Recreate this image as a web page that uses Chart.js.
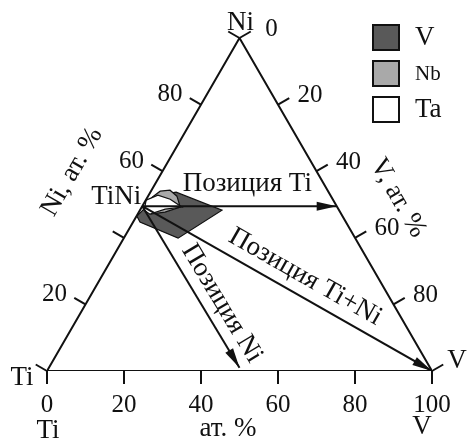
<!DOCTYPE html>
<html>
<head>
<meta charset="utf-8">
<script src="https://cdn.jsdelivr.net/npm/chart.js@4.4.1/dist/chart.umd.min.js"></script>
<style>
  html, body { margin: 0; padding: 0; background: #fff; }
  #wrap { width: 470px; height: 444px; }
</style>
</head>
<body>
<div id="wrap"><canvas id="ternary" width="470" height="444"></canvas></div>
<script>
// Ti–Ni–V section, compositions in at.% (Ti = 100 - V - Ni)
const tickValues = [0, 20, 40, 60, 80, 100];
const bottomLabels = ['0', '20', '40', '60', '80', '100'];
const leftLabels = ['', '20', '', '60', '80', ''];
const rightLabels = ['0', '20', '40', '60', '80', ''];

const vAlloyV  = [2.4, 6.7, 21.3, 14.1, 1.8, 0.1];
const vAlloyNi = [52.8, 53.7, 48.3, 39.9, 44.7, 46.5];
const nbAlloyV  = [1.2, 2.4, 4.8, 7.5, 10.0, 6.8, 3.2, 1.3];
const nbAlloyNi = [52.2, 54.0, 54.3, 52.5, 49.2, 47.7, 47.1, 48.9];
const taAlloyV  = [0.1, 2.4, 6.2, 10.5, 6.4, 3.2, 1.1];
const taAlloyNi = [51.3, 52.8, 51.6, 49.2, 48.6, 47.1, 48.3];

const tiniV = 0;
const tiniNi = 49.5;
const arrowEndV  = [50.5, 49.5, 100];
const arrowEndNi = [49.5, 1, 0];
const arrowLabels = ['Позиция Ti', 'Позиция Ni', 'Позиция Ti+Ni'];

const legendNames = ['V', 'Nb', 'Ta'];
const legendColors = ['#595959', '#a9a9a9', '#ffffff'];

const SQ3 = Math.sqrt(3) / 2;
const FONT = '"Liberation Serif", "DejaVu Serif", serif';
const NUM = 25;   // tick numbers
const WORD = 27;  // captions

function tern(v, ni) {
  return { x: v + ni / 2, y: ni * SQ3 };
}

function polygon(vs, nis) {
  const pts = vs.map((v, i) => tern(v, nis[i]));
  pts.push(pts[0]);
  return pts;
}

const datasets = [
  {
    data: polygon(vAlloyV, vAlloyNi),
    showLine: true, fill: 'shape',
    backgroundColor: legendColors[0], borderColor: '#111', borderWidth: 1.2,
    pointRadius: 0, order: 6
  },
  {
    data: polygon(nbAlloyV, nbAlloyNi),
    showLine: true, fill: 'shape',
    backgroundColor: legendColors[1], borderColor: '#111', borderWidth: 1.2,
    pointRadius: 0, order: 5
  },
  {
    data: polygon(taAlloyV, taAlloyNi),
    showLine: true, fill: 'shape',
    backgroundColor: legendColors[2], borderColor: '#111', borderWidth: 1.2,
    pointRadius: 0, order: 4
  },
  {
    data: [tern(0, 0), tern(100, 0), tern(0, 100), tern(0, 0)],
    showLine: true, fill: false,
    borderColor: '#111', borderWidth: 2, pointRadius: 0, order: 3
  }
];

arrowEndV.forEach((v, i) => {
  datasets.push({
    data: [tern(tiniV, tiniNi), tern(v, arrowEndNi[i])],
    showLine: true, fill: false,
    borderColor: '#111', borderWidth: 2, pointRadius: 0, order: 2
  });
});

const ternaryDecor = {
  id: 'ternaryDecor',
  afterDatasetsDraw(chart) {
    const ctx = chart.ctx;
    const sx = chart.scales.x, sy = chart.scales.y;
    const px = p => ({ x: sx.getPixelForValue(p.x), y: sy.getPixelForValue(p.y) });
    const text = (s, x, y, size, rot) => {
      ctx.save();
      ctx.translate(x, y);
      if (rot) ctx.rotate(rot);
      ctx.font = size + 'px ' + FONT;
      ctx.fillText(s, 0, 0);
      ctx.restore();
    };

    ctx.save();
    ctx.strokeStyle = '#111';
    ctx.fillStyle = '#111';
    ctx.lineWidth = 2;
    ctx.textAlign = 'center';
    ctx.textBaseline = 'middle';

    // arrowheads
    arrowEndV.forEach((v, i) => {
      const a = px(tern(tiniV, tiniNi));
      const b = px(tern(v, arrowEndNi[i]));
      const ang = Math.atan2(b.y - a.y, b.x - a.x);
      ctx.save();
      ctx.translate(b.x, b.y);
      ctx.rotate(ang);
      ctx.beginPath();
      ctx.moveTo(0, 0);
      ctx.lineTo(-20, -4.5);
      ctx.lineTo(-20, 4.5);
      ctx.closePath();
      ctx.fill();
      ctx.restore();
    });

    // ticks
    const tick = 13;
    tickValues.forEach((t, i) => {
      let p = px(tern(t, 0));
      ctx.beginPath(); ctx.moveTo(p.x, p.y); ctx.lineTo(p.x, p.y + tick); ctx.stroke();
      text(bottomLabels[i], p.x, p.y + 34, NUM);

      p = px(tern(0, t));
      ctx.beginPath(); ctx.moveTo(p.x, p.y);
      ctx.lineTo(p.x - tick * SQ3, p.y - tick / 2); ctx.stroke();
      if (leftLabels[i]) text(leftLabels[i], p.x - 31, p.y - 10, NUM);

      p = px(tern(t, 100 - t));
      ctx.beginPath(); ctx.moveTo(p.x, p.y);
      ctx.lineTo(p.x + tick * SQ3, p.y - tick / 2); ctx.stroke();
      if (rightLabels[i]) text(rightLabels[i], p.x + 32, p.y - 9, NUM);
    });

    // arrow captions
    const labelAt = [0.54, 0.66, 0.53];
    const labelLift = [22, 18, 19];
    arrowEndV.forEach((v, i) => {
      const a = px(tern(tiniV, tiniNi));
      const b = px(tern(v, arrowEndNi[i]));
      const ang = Math.atan2(b.y - a.y, b.x - a.x);
      const x = a.x + (b.x - a.x) * labelAt[i] + Math.sin(ang) * labelLift[i];
      const y = a.y + (b.y - a.y) * labelAt[i] - Math.cos(ang) * labelLift[i];
      text(arrowLabels[i], x, y, WORD, ang);
    });

    // corner and axis names
    const ti = px(tern(0, 0)), vv = px(tern(100, 0)), ni = px(tern(0, 100));
    const tn = px(tern(tiniV, tiniNi));
    text('Ti', ti.x - 25, ti.y + 7, WORD);
    text('V', vv.x + 25, vv.y - 10, WORD);
    text('Ni', ni.x + 1, ni.y - 15, WORD);
    text('TiNi', tn.x - 26, tn.y - 9, WORD);
    text('Ti', ti.x + 1, ti.y + 60, WORD);
    text('ат. %', 228, ti.y + 58, WORD);
    text('V', vv.x - 10, vv.y + 56, WORD);
    text('Ni, ат. %', 72, 172, WORD, -Math.PI / 3);
    text('V, ат. %', 398, 198, WORD, Math.PI / 3);

    // legend
    legendNames.forEach((name, i) => {
      const y = 25 + i * 36;
      ctx.fillStyle = legendColors[i];
      ctx.fillRect(373, y, 26, 25);
      ctx.strokeRect(373, y, 26, 25);
      ctx.fillStyle = '#111';
      ctx.textAlign = 'left';
      text(name, 415, y + 13, name === 'Nb' ? 21 : WORD);
      ctx.textAlign = 'center';
    });
    ctx.restore();
  }
};

new Chart(document.getElementById('ternary'), {
  type: 'scatter',
  data: { datasets },
  options: {
    responsive: false,
    animation: false,
    layout: { padding: { left: 47, right: 38, top: 38, bottom: 73 } },
    scales: {
      x: { type: 'linear', min: 0, max: 100, display: false },
      y: { type: 'linear', min: 0, max: 100 * SQ3, display: false }
    },
    plugins: { legend: { display: false }, tooltip: { enabled: false } }
  },
  plugins: [ternaryDecor]
});
</script>
</body>
</html>
